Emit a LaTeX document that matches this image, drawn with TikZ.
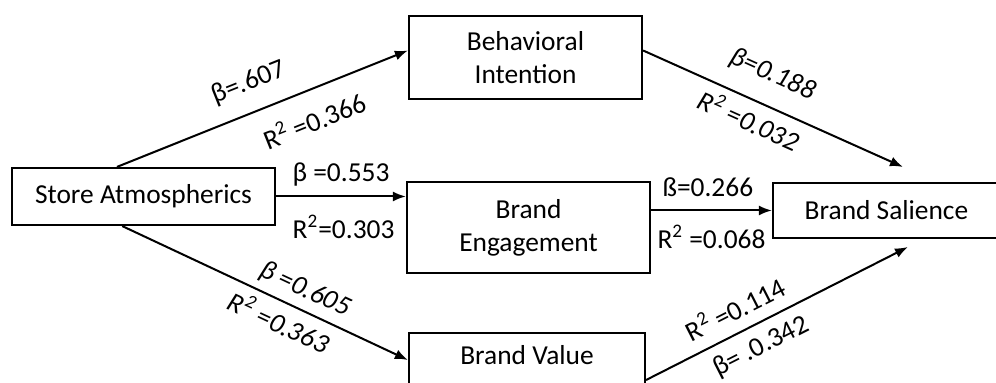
\documentclass[tikz,border=0pt]{standalone}
\usepackage{fontspec}
\setmainfont{Carlito}
\usetikzlibrary{arrows.meta,calc}

\begin{document}
\begin{tikzpicture}[x=0.5pt, y=0.5pt, >={Latex[length=6.5pt,width=5pt]},
  font=\fontsize{13.7}{16.5}\selectfont,
  box/.style={draw, rectangle, line width=1.1pt, align=center, inner sep=0pt},
  lbl/.style={sloped, inner sep=0pt},
  conn/.style={->, line width=1pt}]
\useasboundingbox (0,0) rectangle (996,383);

\node[box, minimum width=131.5pt, minimum height=28.5pt] (sa) at (143.5,186.5) {Store Atmospherics};
\node[box, minimum width=116.5pt, minimum height=41.5pt] (bi) at (525.5,325.5) {Behavioral\\Intention};
\node[box, minimum width=121.5pt, minimum height=45.5pt] (be) at (528.5,155.5) {Brand\\Engagement};
\node[box, minimum width=118pt, anchor=north, inner ysep=6pt, text depth=30pt] (bv) at (527,51) {Brand Value};
\node[box, minimum width=113.5pt, minimum height=27.5pt] (bs) at (886.5,172.5) {Brand Salience};

\coordinate (bsTop) at (903,216);
\coordinate (bsBot) at (908,136);

\draw[conn] ($(sa.north west)!0.4!(sa.north east)$) --
  node[lbl, above=8pt, pos=0.49] (b1) {β=.607}
  node[lbl, below=8.5pt, pos=0.64] (r1) {R\textsuperscript{2} =0.366} ([yshift=3.5pt]bi.west);
\draw[conn] (sa.east) --
  node[lbl, above=4.5pt, pos=0.5] (b2) {β =0.553}
  node[lbl, below=9pt, pos=0.52] (r2) {R\textsuperscript{2}=0.303} (sa.east -| be.west);
\draw[conn] ($(sa.south west)!0.42!(sa.south east)$) --
  node[lbl, above=3.5pt, pos=0.61] (b3) {\itshape β =0.605}
  node[lbl, below=3.5pt, pos=0.58] (r3) {\itshape R\textsuperscript{2} =0.363} ([yshift=-14pt]bv.north west);
\draw[conn] ([yshift=3.5pt]bi.east) --
  node[lbl, above=9pt, pos=0.45] (b4) {\itshape β=0.188}
  node[lbl, below=3.5pt, pos=0.44] (r4) {\itshape R\textsuperscript{2} =0.032} (bsTop);
\draw[conn] (be.east |- bs.west) --
  node[lbl, above=6.5pt, pos=0.47] (b5) {ß=0.266}
  node[lbl, below=7pt, pos=0.5] (r5) {R\textsuperscript{2} =0.068} (bs.west);
\draw[conn] ([yshift=-24pt]bv.north east) --
  node[lbl, above=5.5pt, pos=0.38] (r6) {R\textsuperscript{2} =0.114}
  node[lbl, below=5pt, pos=0.4] (b6) {β= .0.342} (bsBot);
\end{tikzpicture}
\end{document}
